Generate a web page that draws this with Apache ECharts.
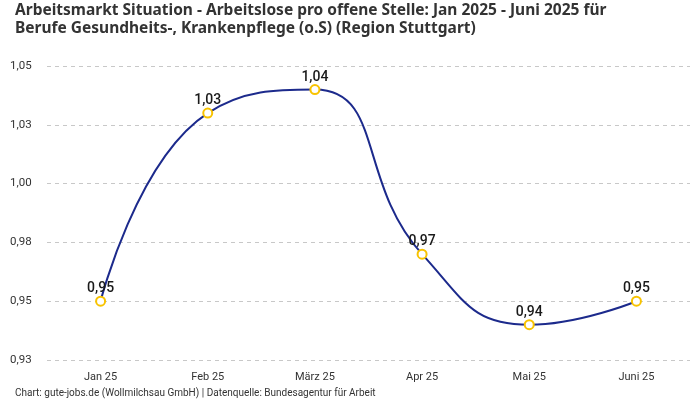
<!DOCTYPE html>
<html><head><meta charset="utf-8">
<script src="https://cdn.jsdelivr.net/npm/echarts@6/dist/echarts.min.js"></script>
<style>html,body{margin:0;padding:0;background:#fff}#c{width:700px;height:400px}</style>
</head><body><div id="c"></div>
<script>
const categories = ['Jan 25','Feb 25','März 25','Apr 25','Mai 25','Juni 25'];
const values = [0.95, 1.03, 1.04, 0.97, 0.94, 0.95];
const valueLabels = ['0,95','1,03','1,04','0,97','0,94','0,95'];
const yTickLabels = ['0,93','0,95','0,98','1,00','1,03','1,05'];
const titleText = 'Arbeitsmarkt Situation - Arbeitslose pro offene Stelle: Jan 2025 - Juni 2025 für\nBerufe Gesundheits-, Krankenpflege (o.S) (Region Stuttgart)';
const footerText = 'Chart: gute-jobs.de (Wollmilchsau GmbH) | Datenquelle: Bundesagentur für Arbeit';

const chart = echarts.init(document.getElementById('c'));
chart.setOption({
  animation: false,
  backgroundColor: '#fff',
  title: [{
    text: titleText, left: 10, top: -3,
    textStyle: {fontFamily: 'Noto Sans', fontSize: 15.5, fontWeight: 'bold', color: '#333', lineHeight: 18}
  },{
    text: footerText, left: 10, top: 383,
    textStyle: {fontFamily: 'Roboto', fontSize: 10, fontWeight: 'normal', color: '#333'}
  }],
  grid: {left: 47, right: 10, top: 66, bottom: 40},
  xAxis: {
    type: 'category', data: categories, boundaryGap: true,
    axisLine: {show: false}, axisTick: {show: false},
    axisLabel: {fontFamily: 'Roboto', fontSize: 11, color: '#333', margin: 12}
  },
  yAxis: {
    type: 'value', min: 0.925, max: 1.05, interval: 0.025,
    axisLine: {show: false}, axisTick: {show: false},
    splitLine: {lineStyle: {type: [4, 4], color: '#c8c8c8'}},
    axisLabel: {fontFamily: 'Roboto', fontSize: 11.5, color: '#333', align: 'left', margin: 37,
      formatter: (v, i) => yTickLabels[i]}
  },
  series: [{
    type: 'line', data: values, smooth: 0.5,
    symbol: 'circle', symbolSize: 9,
    lineStyle: {color: '#1c2a8c', width: 2},
    itemStyle: {color: '#fff', borderColor: '#f8c300', borderWidth: 2},
    label: {show: true, position: 'top', distance: 0, fontFamily: 'Roboto', fontSize: 14, fontWeight: 500, color: '#1a1a1a',
      formatter: p => valueLabels[p.dataIndex]}
  }]
});
</script></body></html>
